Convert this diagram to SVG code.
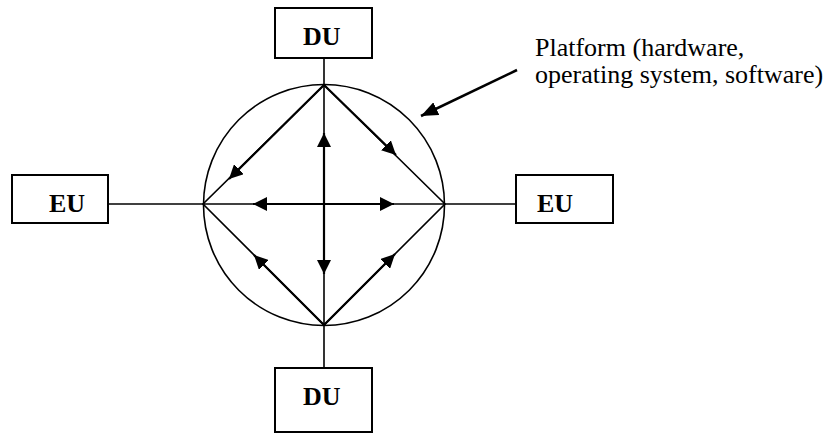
<svg xmlns="http://www.w3.org/2000/svg" width="833" height="435" viewBox="0 0 833 435">
<style>
.box{fill:#fff;stroke:#000;stroke-width:2}
.lbl{font-family:"Liberation Serif",serif;font-size:26px;font-weight:bold;fill:#000}
.txt{font-family:"Liberation Serif",serif;font-size:26px;fill:#000}
.ln{stroke:#000;stroke-width:1.6;fill:none}
.ar{stroke:#000;stroke-width:2.2;fill:none;marker-end:url(#ah)}
</style>
<defs>
<marker id="ah" markerUnits="userSpaceOnUse" markerWidth="14" markerHeight="14" refX="14" refY="7" orient="auto">
<path d="M0,0 L14,7 L0,14 z" fill="#000"/>
</marker>
<marker id="ah2" markerUnits="userSpaceOnUse" markerWidth="17" markerHeight="14" refX="17" refY="7" orient="auto">
<path d="M0,0 L17,7 L0,14 z" fill="#000"/>
</marker>
</defs>
<g id="connectors">
<circle cx="324" cy="205" r="120.5" class="ln"/>
<line x1="324" y1="58" x2="324" y2="368" class="ln"/>
<line x1="108" y1="204" x2="516" y2="204" class="ln"/>
<polygon points="324,85 445,204 324,325 203,204" class="ln"/>
<line x1="324" y1="204" x2="324" y2="133" class="ar"/>
<line x1="324" y1="204" x2="324" y2="274" class="ar"/>
<line x1="324" y1="204" x2="253" y2="204" class="ar"/>
<line x1="324" y1="204" x2="394" y2="204" class="ar"/>
<line x1="324" y1="85" x2="229" y2="179" class="ar"/>
<line x1="324" y1="85" x2="396" y2="155" class="ar"/>
<line x1="324" y1="325" x2="254" y2="255" class="ar"/>
<line x1="324" y1="325" x2="395" y2="254" class="ar"/>
<line x1="517" y1="70" x2="421" y2="116" stroke="#000" stroke-width="2.5" marker-end="url(#ah2)"/>
</g>
<g id="du-top">
<rect x="275" y="8" width="97" height="50" class="box"/>
<text x="303" y="45" class="lbl">DU</text>
</g>
<g id="du-bottom">
<rect x="275" y="368" width="97" height="64" class="box"/>
<text x="303" y="405" class="lbl">DU</text>
</g>
<g id="eu-left">
<rect x="12" y="175" width="96" height="48" class="box"/>
<text x="49" y="212" class="lbl">EU</text>
</g>
<g id="eu-right">
<rect x="516" y="175" width="97" height="48" class="box"/>
<text x="537" y="212" class="lbl">EU</text>
</g>
<g id="platform-label">
<text class="txt"><tspan x="535" y="56">Platform (hardware,</tspan><tspan x="535" y="83">operating system, software)</tspan></text>
</g>
</svg>
